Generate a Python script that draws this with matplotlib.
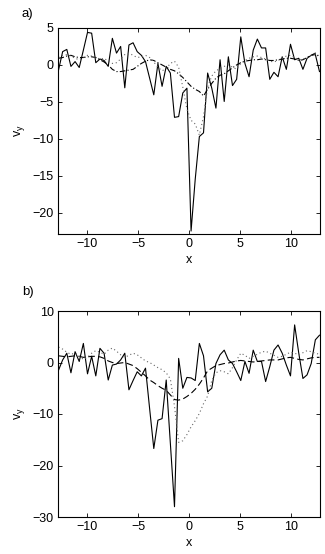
import numpy as np
import matplotlib
matplotlib.use("Agg")
import matplotlib.pyplot as plt

plt.rcParams['font.family'] = ['Liberation Sans', 'DejaVu Sans']
plt.rcParams['mathtext.fontset'] = 'custom'
plt.rcParams['mathtext.rm'] = 'Liberation Sans'

# sampling grid (64 points)
x = np.linspace(-12.8, 12.8, 64)

# panel a)
a_solid = [-0.7, 1.8, 2.1, -0.2, 0.45, -0.35, 2.0, 4.4, 4.3, 0.3,
           0.8, 0.6, -0.2, 3.6, 1.6, 2.5, -3.1, 2.7, 3.0, 1.8,
           1.3, 0.45, -1.8, -4.05, 0.2, -2.9, -0.2, -1.1, -7.1, -7.0,
           -3.8, -3.15, -22.5, -15.5, -9.7, -9.2, -1.1, -3.15, -5.85, 0.7,
           -4.95, 1.1, -2.8, -1.95, 3.8, 0.2, -1.6, 2.0, 3.5, 2.3,
           2.3, -1.95, -1.0, -1.6, 1.1, -0.6, 2.8, 0.7, 0.9, -0.6,
           0.9, 1.3, 1.4, -0.9]
a_dash = [0.9, 1.0, 1.2, 1.3, 1.1, 1.0, 1.0, 1.1, 1.1, 1.0,
          0.7, 0.4, 0.0, -0.6, -0.9, -0.9, -0.8, -0.7, -0.6, -0.2,
          0.2, 0.5, 0.7, 0.6, 0.3, 0.0, -0.3, -0.6, -0.8, -1.2,
          -1.7, -2.3, -2.9, -3.3, -3.6, -4.2, -3.3, -2.5, -1.8, -1.4,
          -1.2, -0.8, -0.4, 0.0, 0.3, 0.5, 0.6, 0.7, 0.7, 0.8,
          0.7, 0.6, 0.6, 0.7, 0.8, 0.9, 0.9, 0.8, 0.6, 0.7,
          1.0, 1.3, 1.6, 1.0]
a_dot = [1.0, 1.3, 1.4, 1.2, 0.9, 0.7, 1.0, 1.3, 1.2, 1.0,
         0.8, 0.9, 0.5, 0.2, 0.3, 0.8, 1.4, 1.6, 1.3, 1.0,
         1.1, 1.3, 1.0, 0.4, -0.3, -0.8, -0.5, 0.2, 0.5, -0.3,
         -3.0, -6.0, -7.5, -8.0, -9.5, -7.0, -3.0, -1.5, -0.8, -0.5,
         -0.2, 0.0, -0.3, -0.6, 0.2, 0.6, 0.9, 1.1, 1.2, 1.0,
         0.8, 0.5, 0.4, 0.6, 0.9, 1.2, 1.3, 1.0, 0.7, 0.8,
         1.0, 1.3, 1.5, 1.2]

# panel b)
b_solid = [-1.5, 0.5, 1.8, -2.0, 2.1, 0.2, 3.7, -2.2, 1.2, -2.6,
           2.75, 1.8, -3.4, -0.5, -0.3, 0.5, 1.8, -5.3, -3.5, -1.8,
           -2.6, -1.1, -9.0, -16.7, -11.2, -10.9, -3.4, -15.7, -28.0, 0.8,
           -5.0, -2.9, -3.0, -3.5, 3.7, 1.3, -5.7, -5.0, -0.2, 1.5,
           2.4, 0.5, -0.2, -1.8, -3.5, 0.2, -2.1, 2.4, 0.2, 0.2,
           -3.7, -0.8, 2.4, 3.4, 1.8, -0.5, -2.6, 7.3, 1.8, -3.1,
           -2.4, -0.2, 4.4, 5.3]
b_dash = [1.3, 1.2, 1.1, 1.2, 1.3, 1.2, 1.0, 1.1, 1.2, 1.2,
          1.1, 0.8, 0.3, 0.0, -0.2, -0.1, 0.0, -0.3, -0.6, -1.2,
          -1.9, -2.6, -3.4, -3.9, -4.5, -5.0, -5.4, -6.3, -7.2, -7.3,
          -7.1, -6.6, -6.0, -5.2, -4.2, -3.0, -1.6, -1.1, -0.6, -0.4,
          -0.2, -0.1, 0.1, 0.3, 0.4, 0.3, 0.2, 0.1, 0.2, 0.3,
          0.4, 0.5, 0.5, 0.5, 0.7, 0.9, 1.0, 0.8, 0.6, 0.5,
          0.7, 0.9, 1.0, 1.0]
b_dot = [3.0, 2.6, 2.0, 1.6, 1.8, 1.2, 0.6, 1.0, 1.8, 2.3,
         2.0, 1.6, 2.4, 2.8, 2.2, 1.5, 1.0, 1.4, 1.8, 1.5,
         0.9, 0.3, 0.0, -0.5, -1.0, -1.4, -2.0, -3.2, -8.5, -15.5,
         -15.2, -14.0, -12.5, -11.3, -9.9, -8.0, -6.5, -3.5, -2.0, -1.6,
         -1.8, -2.2, -1.0, 0.5, 1.8, 1.4, 0.8, 1.2, 1.6, 2.0,
         2.2, 1.8, 1.4, 1.0, 1.2, 1.6, 2.0, 1.8, 1.5, 1.9,
         2.3, 2.1, 1.8, 1.6]

xticks = [-10, -5, 0, 5, 10]
a_yticks = [-20, -15, -10, -5, 0, 5]
b_yticks = [-30, -20, -10, 0, 10]


def draw_panel(ax, solid, dash, dot, ylim, yticks, dash_style):
    ax.plot(x, solid, color='black', linewidth=0.8, linestyle='-')
    ax.plot(x, dash, color='black', linewidth=0.8, linestyle=dash_style)
    ax.plot(x, dot, color='0.4', linewidth=0.8, linestyle=(0, (1, 2.5)))
    ax.set_xlim(-12.85, 12.85)
    ax.set_ylim(*ylim)
    ax.set_xticks(xticks)
    ax.set_yticks(yticks)
    ax.set_xticklabels(['\u221210', '\u22125', '0', '5', '10'])
    ax.set_yticklabels([str(t).replace('-', '\u2212') for t in yticks])
    ax.tick_params(direction='in', length=3, width=0.6, top=True, right=True,
                   labelsize=9, pad=3)
    for s in ax.spines.values():
        s.set_linewidth(0.8)
    ax.set_xlabel('x', fontsize=9, labelpad=3)
    ax.set_ylabel(r'v$_\mathrm{y}$', fontsize=9, labelpad=4)


fig = plt.figure(figsize=(3.25, 5.54), dpi=100)
ax1 = fig.add_axes([58 / 325, 1 - 234 / 554, 262 / 325, 206 / 554])
ax2 = fig.add_axes([58 / 325, 1 - 517 / 554, 262 / 325, 206 / 554])

draw_panel(ax1, a_solid, a_dash, a_dot, (-22.9, 5), a_yticks, (0, (5, 2, 1, 2)))
draw_panel(ax2, b_solid, b_dash, b_dot, (-30, 10), b_yticks, (0, (6, 3)))

fig.text(22 / 325, 1 - 14 / 554, 'a)', fontsize=9.5, va='center', ha='left')
fig.text(22 / 325, 1 - 292 / 554, 'b)', fontsize=9.5, va='center', ha='left')

fig.savefig('out.png', dpi=100)
